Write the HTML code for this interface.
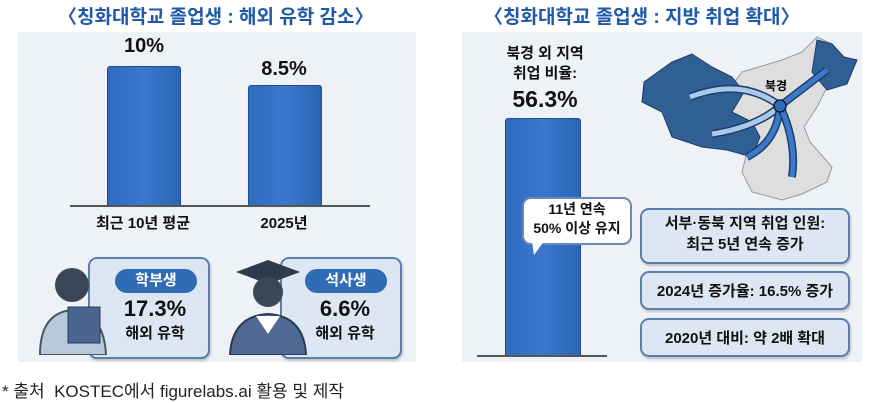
<!DOCTYPE html>
<html><head><meta charset="utf-8"><style>
body{margin:0;width:888px;height:403px;background:#fff;position:relative;overflow:hidden;font-family:"Liberation Sans","Noto Sans CJK KR",sans-serif;color:#111}
.a{position:absolute}
.t{font-weight:bold;color:#1f5aa8;font-size:19px;white-space:nowrap}
.panel{background:#eef2f7}
.bar{background:linear-gradient(90deg,#2f6cc0,#3a78cc 50%,#2c64b4);border:1px solid #1d4f96;border-radius:3px 3px 0 0}
.b{font-weight:bold;text-align:center;white-space:nowrap}
.box{background:#dde7f3;border:2px solid #5a7fae;border-radius:9px;box-shadow:1px 2px 2px rgba(0,0,0,.2)}
.pill{background:#2f6cb5;color:#fff;border-radius:14px;font-weight:bold;text-align:center}
</style></head><body>
<div class="a t" style="left:58px;top:2px">〈칭화대학교 졸업생 : 해외 유학 감소〉</div>
<div class="a t" style="left:484px;top:2px">〈칭화대학교 졸업생 : 지방 취업 확대〉</div>

<div class="a panel" style="left:18px;top:32px;width:398px;height:330px"></div>
<div class="a b" style="left:104px;top:35px;width:80px;font-size:20px">10%</div>
<div class="a b" style="left:244px;top:58px;width:80px;font-size:20px">8.5%</div>
<div class="a bar" style="left:107px;top:66px;width:72px;height:139px"></div>
<div class="a bar" style="left:248px;top:85px;width:72px;height:120px"></div>
<div class="a" style="left:70px;top:205px;width:300px;height:2px;background:#555"></div>
<div class="a b" style="left:88px;top:212px;width:110px;font-size:15px">최근 10년 평균</div>
<div class="a b" style="left:244px;top:212px;width:80px;font-size:15px">2025년</div>

<div class="a box" style="left:88px;top:257px;width:118px;height:98px"></div>
<div class="a box" style="left:280px;top:257px;width:118px;height:98px"></div>
<div class="a pill" style="left:115px;top:269px;width:82px;height:24px;line-height:24px;font-size:15px">학부생</div>
<div class="a pill" style="left:305px;top:269px;width:82px;height:24px;line-height:24px;font-size:15px">석사생</div>
<div class="a b" style="left:110px;top:296px;width:90px;font-size:22px">17.3%</div>
<div class="a b" style="left:300px;top:296px;width:90px;font-size:22px">6.6%</div>
<div class="a b" style="left:110px;top:322px;width:90px;font-size:15px">해외 유학</div>
<div class="a b" style="left:300px;top:322px;width:90px;font-size:15px">해외 유학</div>
<svg class="a" style="left:30px;top:255px" width="80" height="100"><circle cx="42" cy="30" r="17" fill="#3b4656"/><path d="M10 100 Q10 58 42 55 Q74 58 76 100Z" fill="#b9c9dc" stroke="#4a5566" stroke-width="2"/><rect x="38" y="52" width="32" height="36" fill="#4a6690" stroke="#2c3c55"/></svg>
<svg class="a" style="left:228px;top:258px" width="80" height="97"><polygon points="8,14 40,2 72,14 40,26" fill="#2f3a4a"/><circle cx="40" cy="34" r="15" fill="#3b4656"/><path d="M2 97 Q4 58 40 56 Q76 58 78 97Z" fill="#4f6a92" stroke="#2c3c55" stroke-width="2"/><polygon points="28,58 40,76 52,58" fill="#fff"/></svg>

<div class="a" style="left:2px;top:377px;font-size:17px;color:#222;white-space:nowrap">* 출처&nbsp; KOSTEC에서 figurelabs.ai 활용 및 제작</div>

<div class="a panel" style="left:462px;top:32px;width:400px;height:330px"></div>
<div class="a b" style="left:490px;top:44px;width:110px;font-size:15px;line-height:20px">북경 외 지역<br>취업 비율:</div>
<div class="a b" style="left:490px;top:86px;width:110px;font-size:23px">56.3%</div>
<div class="a bar" style="left:505px;top:118px;width:74px;height:237px"></div>
<div class="a" style="left:477px;top:355px;width:130px;height:2px;background:#555"></div>
<div class="a" style="left:522px;top:197px;width:106px;height:44px;background:#fff;border:2px solid #6a8ab5;border-radius:9px"></div>
<div class="a b" style="left:522px;top:200px;width:110px;font-size:14px;line-height:19px">11년 연속<br>50% 이상 유지</div>
<svg class="a" style="left:530px;top:241px" width="20" height="16"><polygon points="2,0 14,0 4,14" fill="#fff"/></svg>
<svg class="a" style="left:632px;top:32px" width="230" height="170">
<path d="M110 40 L150 28 L170 20 L185 5 L200 12 L210 25 L225 28 L215 50 L195 55 L185 75 L172 95 L178 110 L200 135 L195 150 L170 162 L150 168 L120 160 L110 140 L115 120 L100 105 L90 80 L95 60Z" fill="#dedede" stroke="#999"/>
<path d="M40 30 L60 22 L80 35 L100 45 L112 60 L100 80 L120 90 L128 105 L120 125 L95 118 L70 115 L40 105 L30 80 L10 70 L12 50Z" fill="#2f5f95" stroke="#1f3f66"/>
<path d="M185 8 L200 12 L212 25 L225 28 L215 52 L195 58 L180 40Z" fill="#2f5f95" stroke="#1f3f66"/>
<path d="M148 74 Q110 45 58 65" stroke="#1f3f66" stroke-width="8" fill="none"/><path d="M148 74 Q110 45 58 65" stroke="#a8c8ec" stroke-width="5" fill="none"/>
<path d="M148 74 Q125 95 80 102" stroke="#1f3f66" stroke-width="8" fill="none"/><path d="M148 74 Q125 95 80 102" stroke="#a8c8ec" stroke-width="5" fill="none"/>
<path d="M148 74 Q145 110 115 125" stroke="#1f3f66" stroke-width="8" fill="none"/><path d="M148 74 Q145 110 115 125" stroke="#3a78cc" stroke-width="5" fill="none"/>
<path d="M148 74 Q165 110 160 145" stroke="#1f3f66" stroke-width="8" fill="none"/><path d="M148 74 Q165 110 160 145" stroke="#3a78cc" stroke-width="5" fill="none"/>
<path d="M148 74 L195 38" stroke="#1f3f66" stroke-width="8" fill="none"/><path d="M148 74 L195 38" stroke="#3a78cc" stroke-width="5" fill="none"/>
<circle cx="148" cy="74" r="6" fill="#2f6cc0" stroke="#123" stroke-width="1.5"/>
<text x="133" y="58" font-size="12" font-weight="bold" font-family="Liberation Sans,Noto Sans CJK KR,sans-serif">북경</text>
</svg>
<div class="a box" style="left:640px;top:208px;width:206px;height:52px"></div>
<div class="a b" style="left:640px;top:213px;width:210px;font-size:15px;line-height:21px">서부·동북 지역 취업 인원:<br>최근 5년 연속 증가</div>
<div class="a box" style="left:640px;top:271px;width:206px;height:35px"></div>
<div class="a b" style="left:640px;top:280px;width:210px;font-size:15px">2024년 증가율: 16.5% 증가</div>
<div class="a box" style="left:640px;top:318px;width:206px;height:35px"></div>
<div class="a b" style="left:640px;top:327px;width:210px;font-size:15px">2020년 대비: 약 2배 확대</div>
</body></html>
